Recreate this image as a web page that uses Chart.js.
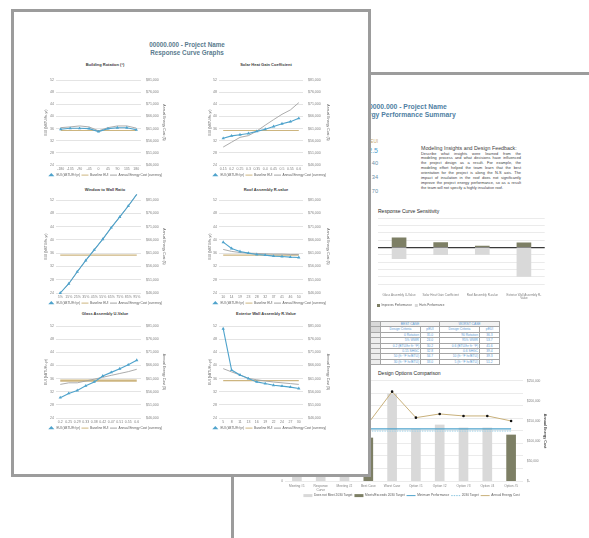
<!DOCTYPE html>
<html>
<head>
<meta charset="utf-8">
<title>Energy Performance Summary</title>
<script src="https://cdn.jsdelivr.net/npm/chart.js"></script>
<style>
  html, body { margin:0; padding:0; background:#fff; }
  body { width:589px; height:538px; position:relative; overflow:hidden; font-family:'Liberation Sans', Arial, sans-serif; }
  .page { position:absolute; background:#fff; border:3px solid #9c9c9c; box-sizing:border-box; }
  .t { position:absolute; white-space:nowrap; }
  canvas { position:absolute; }
  .line { width:100px; text-align:justify; text-align-last:justify; white-space:nowrap; height:4.9px; line-height:4.9px; }
  #summaryTable { position:absolute; left:370px; top:321px; border-collapse:collapse; font-size:3.3px; color:#5b9bd5; table-layout:fixed; border:0.8px solid #8c8c8c; }
  #summaryTable td { border:0.5px solid #a6a6a6; height:5px; padding:0 1px; line-height:4.4px; overflow:hidden; white-space:nowrap; box-sizing:border-box; }
</style>
</head>
<body>

<!-- second sheet: energy performance summary -->
<div class="page" style="left:231px;top:72px;width:420px;height:520px;"></div>
<div class="t" style="left:306px;top:103px;width:200px;text-align:center;font-weight:bold;font-size:6.8px;line-height:7.6px;color:#4f7fa3;">00000.000 - Project Name<br>Energy Performance Summary</div>
<div class="t" style="left:330px;top:138.5px;width:48px;text-align:right;font-size:4.6px;line-height:5px;color:#c9a86a;">pEUI</div>
<div class="t" style="left:330px;top:146.5px;width:48px;text-align:right;font-size:7px;line-height:7px;color:#4f9fd0;">32.5</div>
<div class="t" style="left:330px;top:160px;width:48px;text-align:right;font-size:5.6px;line-height:6px;color:#6b8fa8;">40</div>
<div class="t" style="left:330px;top:174px;width:48px;text-align:right;font-size:5.6px;line-height:6px;color:#6b8fa8;">34</div>
<div class="t" style="left:330px;top:188px;width:48px;text-align:right;font-size:5.6px;line-height:6px;color:#6b8fa8;">70</div>

<div class="t" style="left:421px;top:145px;font-size:5.3px;line-height:6px;color:#404040;">Modeling Insights and Design Feedback:</div>
<div style="position:absolute;left:421px;top:151.5px;font-size:3.9px;color:#404040;">
  <div class="line">Describe what insights were learned from the</div>
  <div class="line">modeling process and what decisions have influenced</div>
  <div class="line">the project design as a result. For example, the</div>
  <div class="line">modeling effort helped the team learn that the best</div>
  <div class="line">orientation for the project is along the N-S axis. The</div>
  <div class="line">impact of insulation in the roof does not significantly</div>
  <div class="line">improve the project energy performance, so as a result</div>
  <div class="line" style="text-align-last:left;">the team will not specify a highly insulative roof.</div>
</div>

<div class="t" style="left:378px;top:208px;font-size:5px;line-height:6px;color:#262626;">Response Curve Sensitivity</div>
<canvas id="sensitivityChart"></canvas>

<table id="summaryTable"></table>

<div class="t" style="left:378px;top:370px;font-size:5px;line-height:6px;color:#262626;">Design Options Comparison</div>
<canvas id="optionsChart"></canvas>

<!-- first sheet: response curve graphs -->
<div class="page" style="left:11px;top:9px;width:360px;height:468px;"></div>
<div class="t" style="left:87px;top:41.2px;width:200px;text-align:center;font-weight:bold;font-size:6.3px;line-height:7.7px;color:#5a7b8e;">00000.000 - Project Name<br>Response Curve Graphs</div>

<div class="t" style="left:45px;top:61.5px;width:120px;text-align:center;font-weight:bold;font-size:4px;line-height:5px;color:#404040;">Building Rotation (°)</div>
<div class="t" style="left:206px;top:61.5px;width:120px;text-align:center;font-weight:bold;font-size:4px;line-height:5px;color:#404040;">Solar Heat Gain Coefficient</div>
<div class="t" style="left:45px;top:187px;width:120px;text-align:center;font-weight:bold;font-size:4px;line-height:5px;color:#404040;">Window to Wall Ratio</div>
<div class="t" style="left:206px;top:187px;width:120px;text-align:center;font-weight:bold;font-size:4px;line-height:5px;color:#404040;">Roof Assembly R-value</div>
<div class="t" style="left:45px;top:310.5px;width:120px;text-align:center;font-weight:bold;font-size:4px;line-height:5px;color:#404040;">Glass Assembly U-Value</div>
<div class="t" style="left:206px;top:310.5px;width:120px;text-align:center;font-weight:bold;font-size:4px;line-height:5px;color:#404040;">Exterior Wall Assembly R-Value</div>

<canvas id="rotationChart"></canvas>
<canvas id="shgcChart"></canvas>
<canvas id="wwrChart"></canvas>
<canvas id="roofChart"></canvas>
<canvas id="glassChart"></canvas>
<canvas id="wallChart"></canvas>

<script>
// ---------- response curve series ----------
const rotationLabels = ['-180', '-135', '-90', '-45', '0', '45', '90', '135', '180'];
const rotationEUI = [35.8, 36.1, 36.1, 36.0, 35.0, 36.0, 36.3, 36.3, 35.6];
const rotationBaseline = [35.4, 35.4, 35.4, 35.4, 35.4, 35.4, 35.4, 35.4, 35.4];
const rotationCost = [61400, 61700, 62100, 61700, 60100, 61400, 62100, 62100, 61200];

const shgcLabels = ['0.15', '0.2', '0.25', '0.3', '0.35', '0.4', '0.45', '0.5', '0.55', '0.6'];
const shgcEUI = [32.8, 33.6, 34.0, 34.4, 35.1, 35.8, 36.7, 37.6, 38.3, 39.4];
const shgcBaseline = [35.4, 35.4, 35.4, 35.4, 35.4, 35.4, 35.4, 35.4, 35.4, 35.4];
const shgcCost = [53400, 55400, 57400, 58100, 60000, 62400, 64700, 66900, 68700, 71700];

const wwrLabels = ['5%', '15%', '25%', '35%', '45%', '55%', '65%', '75%', '85%', '95%'];
const wwrEUI = [24.0, 26.8, 30.4, 33.8, 37.0, 40.2, 43.7, 46.9, 50.2, 53.7];
const wwrBaseline = [35.4, 35.4, 35.4, 35.4, 35.4, 35.4, 35.4, 35.4, 35.4, 35.4];
const wwrCost = [46000, 49450, 53950, 58200, 62300, 66250, 70600, 74600, 78700, 83150];

const roofLabels = ['10', '14', '19', '23', '28', '32', '37', '41', '46', '50'];
const roofEUI = [39.3, 37.4, 36.5, 36.0, 35.6, 35.4, 35.1, 35.0, 34.8, 34.7];
const roofBaseline = [35.4, 35.4, 35.4, 35.4, 35.4, 35.4, 35.4, 35.4, 35.4, 35.4];
const roofCost = [62400, 61650, 61250, 61000, 60900, 60750, 60650, 60650, 60500, 60500];

const glassLabels = ['0.2', '0.25', '0.29', '0.33', '0.38', '0.42', '0.47', '0.51', '0.55', '0.6'];
const glassEUI = [30.2, 31.5, 32.4, 33.8, 35.0, 36.8, 37.9, 39.0, 40.2, 41.6];
const glassBaseline = [35.4, 35.4, 35.4, 35.4, 35.4, 35.4, 35.4, 35.4, 35.4, 35.4];
const glassCost = [58800, 59400, 59400, 60100, 60800, 61500, 62250, 62950, 63650, 64550];

const wallLabels = ['5', '8', '11', '13', '16', '19', '22', '24', '27', '30'];
const wallEUI = [51.2, 38.6, 37.1, 36.0, 35.0, 34.5, 34.0, 33.7, 33.4, 33.0];
const wallBaseline = [35.4, 35.4, 35.4, 35.4, 35.4, 35.4, 35.4, 35.4, 35.4, 35.4];
const wallCost = [64800, 63550, 62400, 61100, 60550, 60100, 59700, 59400, 59100, 58800];

// ---------- sensitivity (change in pEUI against baseline) ----------
const sensitivityLabels = ['Glass Assembly U-Value', 'Solar Heat Gain Coefficient', 'Roof Assembly R-value', ['Exterior Wall Assembly R-', 'Value']];
const improvesEUI = [5.2, 2.6, 0.7, 2.4];
const hurtsEUI = [-6.2, -4.0, -3.9, -15.8];

// ---------- best / worst case table ----------
const bestCriteria = ['0 Rotation', '5% WWR', '0.2 (BTU/hr ft² °F)', '0.15 SHGC', '50 (ft² °F hr/BTU)', '30 (ft² °F hr/BTU)'];
const bestEUI = ['35.0', '24.0', '30.2', '32.8', '34.7', '33.0'];
const worstCriteria = ['90 Rotation', '95% WWR', '0.6 (BTU/hr ft² °F)', '0.6 SHGC', '10 (ft² °F hr/BTU)', '5 (ft² °F hr/BTU)'];
const worstEUI = ['36.3', '53.7', '41.6', '39.4', '39.3', '51.2'];

// ---------- design options ----------
const optionLabels = ['Meeting #1', ['Response', 'Curve'], 'Meeting #2', 'Best Case', 'Worst Case', 'Option #1', 'Option #2', 'Option #3', 'Option #4', 'Option #5'];
const optionEUI = [46.0, 44.0, 48.0, 34.4, 69.6, 41.0, 44.8, 42.4, 42.4, 36.8];
const minimumPerformance = [41.6, 41.6, 41.6, 41.6, 41.6, 41.6, 41.6, 41.6, 41.6, 41.6];
const target2030 = [39.9, 39.9, 39.9, 39.9, 39.9, 39.9, 39.9, 39.9, 39.9, 39.9];
const optionCost = [152000, 158000, 155000, 144250, 223250, 158250, 167500, 162500, 162500, 150000];

// ---------- styling ----------
const BLUE = '#4fa3cc', TAN = '#cdb57f', GREY = '#a3a3a3', OLIVE = '#7d7f65', LIGHT = '#d9d9d9';
const TICK = '#7f7f7f', TEXT = '#595959';
Chart.defaults.font.family = "'Liberation Sans', Arial, sans-serif";
Chart.defaults.color = TEXT;

function place(id, x, y, w, h) {
  const c = document.getElementById(id);
  c.width = w; c.height = h;
  c.style.left = x + 'px'; c.style.top = y + 'px';
  c.style.width = w + 'px'; c.style.height = h + 'px';
  return c;
}

const byIndex = (a, b) => a.datasetIndex - b.datasetIndex;

// legend entries drawn as a short stroke in the series colour
function lineLegendItems(chart) {
  return Chart.defaults.plugins.legend.labels.generateLabels(chart).map(item => {
    const ds = chart.data.datasets[item.datasetIndex];
    if (ds.legendStroke) {
      item.pointStyle = 'line';
      item.strokeStyle = ds.legendStroke;
      item.lineWidth = 1;
      item.lineDash = ds.borderDash || [];
    }
    return item;
  });
}

// category axis without tick marks and with a fixed band height
const categoryAxis = (size, pad, height, extra) => Object.assign({
  grid: { display: false, drawTicks: false }, border: { display: false },
  ticks: { font: { size: size }, color: TICK, padding: pad, maxRotation: 0, minRotation: 0, autoSkip: false },
  afterFit: s => { s.height = height; }
}, extra || {});

function responseCurve(id, box, labels, eui, baseline, cost, baselineWidth) {
  const canvas = place(id, box.x, box.y, box.w, box.h);
  return new Chart(canvas, {
    type: 'line',
    data: {
      labels: labels,
      datasets: [
        { label: 'EUI (kBTU/ft²/yr)', data: eui, yAxisID: 'y', order: 0,
          borderColor: BLUE, backgroundColor: BLUE, borderWidth: 1.1,
          pointStyle: 'triangle', pointRadius: 1.9, pointBorderWidth: 0,
          pointBackgroundColor: BLUE, clip: false },
        { label: 'Baseline EUI', data: baseline, yAxisID: 'y', order: 2,
          borderColor: TAN, backgroundColor: TAN, borderWidth: baselineWidth,
          pointStyle: 'line', pointRadius: 0, pointBorderColor: TAN, pointBorderWidth: 1 },
        { label: 'Annual Energy Cost (currency)', data: cost, yAxisID: 'y1', order: 1,
          borderColor: GREY, backgroundColor: GREY, borderWidth: 0.9,
          pointStyle: 'line', pointRadius: 0, pointBorderColor: GREY, pointBorderWidth: 1, clip: false }
      ]
    },
    options: {
      responsive: false, animation: false, devicePixelRatio: 1,
      layout: { padding: { top: box.pad, left: 0, right: 0, bottom: 0 } },
      plugins: {
        tooltip: { enabled: false },
        legend: { position: 'bottom', maxHeight: 8,
          labels: { font: { size: 3.2 }, color: TEXT, usePointStyle: true, pointStyleWidth: 7,
                    boxHeight: 3, padding: 1.5, sort: byIndex } }
      },
      scales: {
        x: categoryAxis(3.5, 2, 7, { offset: true }),
        y: { position: 'left', min: 24, max: 52,
             ticks: { stepSize: 4, font: { size: 3.5 }, color: TICK, padding: 2 },
             grid: { color: '#d9d9d9', lineWidth: 0.7, drawTicks: false },
             border: { display: false },
             title: { display: true, text: 'EUI (kBTU/ft²-yr)', font: { size: 3.5 }, color: TEXT, padding: 0 },
             afterFit: s => { s.width = box.yW; } },
        y1: { position: 'right', min: 46000, max: 81000,
              ticks: { stepSize: 5000, font: { size: 3.5 }, color: TICK, padding: 5,
                       callback: v => '$' + v.toLocaleString('en-US') },
              grid: { display: false, drawTicks: false }, border: { display: false },
              title: { display: true, text: 'Annual Energy Cost ($)', font: { size: 3.5 }, color: TEXT, padding: 0 },
              afterFit: s => { s.width = box.y1W; } }
      }
    }
  });
}

responseCurve('rotationChart', { x: 44, y: 73, w: 122, h: 107, pad: 3, yW: 12, y1W: 25 }, rotationLabels, rotationEUI, rotationBaseline, rotationCost, 1.1);
responseCurve('shgcChart', { x: 208, y: 73, w: 122, h: 107, pad: 3, yW: 11, y1W: 27 }, shgcLabels, shgcEUI, shgcBaseline, shgcCost, 1.1);
responseCurve('wwrChart', { x: 44, y: 192, w: 122, h: 116, pad: 8, yW: 12, y1W: 25 }, wwrLabels, wwrEUI, wwrBaseline, wwrCost, 1.1);
responseCurve('roofChart', { x: 208, y: 192, w: 122, h: 116, pad: 8, yW: 11, y1W: 27 }, roofLabels, roofEUI, roofBaseline, roofCost, 1.1);
responseCurve('glassChart', { x: 44, y: 319, w: 122, h: 114, pad: 6, yW: 12, y1W: 25 }, glassLabels, glassEUI, glassBaseline, glassCost, 2.2);
responseCurve('wallChart', { x: 208, y: 319, w: 122, h: 114, pad: 6, yW: 11, y1W: 27 }, wallLabels, wallEUI, wallBaseline, wallCost, 1.1);

// ---------- sensitivity bars ----------
new Chart(place('sensitivityChart', 374, 212, 176, 98), {
  type: 'bar',
  data: {
    labels: sensitivityLabels,
    datasets: [
      { label: 'Improves Performance', data: improvesEUI, backgroundColor: OLIVE, barThickness: 14 },
      { label: 'Hurts Performance', data: hurtsEUI, backgroundColor: LIGHT, barThickness: 14 }
    ]
  },
  options: {
    responsive: false, animation: false, devicePixelRatio: 1,
    layout: { padding: { top: 6, right: 2, left: 0, bottom: 0 } },
    plugins: {
      tooltip: { enabled: false },
      legend: { position: 'bottom', align: 'start', maxHeight: 9,
        labels: { font: { size: 3 }, color: TEXT, boxWidth: 3, boxHeight: 3, padding: 3 } }
    },
    scales: {
      x: categoryAxis(3, 9, 17, { stacked: true }),
      y: { stacked: true, min: -20, max: 16,
           ticks: { stepSize: 4, display: false },
           grid: { drawTicks: false,
                   color: c => (c.tick && c.tick.value === 0) ? '#3a3a3a' : '#e3e3e3',
                   lineWidth: c => (c.tick && c.tick.value === 0) ? 1.2 : 0.7 },
           border: { display: false },
           afterFit: s => { s.width = 0; } }
    }
  }
});

// ---------- best / worst table ----------
(function buildTable() {
  const t = document.getElementById('summaryTable');
  const widths = [10, 40, 19, 40, 20];
  let html = '<colgroup>' + widths.map(w => '<col style="width:' + w + 'px">').join('') + '</colgroup>';
  html += '<tr><td style="background:#d9d9d9"></td><td colspan="2" style="text-align:center;background:#f2f2f2">BEST CASE</td><td colspan="2" style="text-align:center;background:#f2f2f2">WORST CASE</td></tr>';
  html += '<tr><td style="background:#d9d9d9"></td><td style="text-align:center">Design Criteria</td><td style="text-align:center">pEUI</td><td style="text-align:center">Design Criteria</td><td style="text-align:center">pEUI</td></tr>';
  for (let i = 0; i < bestCriteria.length; i++) {
    html += '<tr><td style="background:#ededed"></td><td style="text-align:right">' + bestCriteria[i] + '</td><td style="text-align:center">' + bestEUI[i] +
            '</td><td style="text-align:right">' + worstCriteria[i] + '</td><td style="text-align:center">' + worstEUI[i] + '</td></tr>';
  }
  t.innerHTML = html;
})();

// ---------- design options comparison ----------
const missesTarget = optionEUI.map((v, i) => v > target2030[i] ? v : null);
const meetsTarget = optionEUI.map((v, i) => v <= target2030[i] ? v : null);

new Chart(place('optionsChart', 276, 375, 271, 125), {
  data: {
    labels: optionLabels,
    datasets: [
      { type: 'bar', label: 'Does not Meet 2030 Target', data: missesTarget, backgroundColor: LIGHT,
        barThickness: 9, grouped: false, order: 3, pointStyle: 'rect' },
      { type: 'bar', label: 'Meets/Exceeds 2030 Target', data: meetsTarget, backgroundColor: OLIVE,
        barThickness: 9, grouped: false, order: 3, pointStyle: 'rect' },
      { type: 'line', label: 'Minimum Performance', data: minimumPerformance, borderColor: BLUE, backgroundColor: BLUE,
        borderWidth: 1.3, pointRadius: 0, pointStyle: 'line', legendStroke: BLUE, order: 1 },
      { type: 'line', label: '2030 Target', data: target2030, borderColor: '#9fd1e8', backgroundColor: '#9fd1e8',
        borderWidth: 1, borderDash: [1.5, 1], pointRadius: 0, pointStyle: 'line', legendStroke: '#8cc6e0', order: 1 },
      { type: 'line', label: 'Annual Energy Cost', data: optionCost, yAxisID: 'y1', borderColor: '#c8b07a',
        backgroundColor: '#111', borderWidth: 1, pointRadius: 1.3, pointBackgroundColor: '#111',
        pointBorderColor: '#111', pointBorderWidth: 0, pointStyle: 'circle', legendStroke: '#c8b07a', order: 0 }
    ]
  },
  options: {
    responsive: false, animation: false, devicePixelRatio: 1,
    layout: { padding: { top: 4, left: 0, right: 0, bottom: 0 } },
    plugins: {
      tooltip: { enabled: false },
      legend: { position: 'bottom', maxHeight: 8,
        labels: { font: { size: 3.2 }, color: TEXT, usePointStyle: true, pointStyleWidth: 9, boxHeight: 3,
                  padding: 2, sort: byIndex, generateLabels: lineLegendItems } }
    },
    scales: {
      x: categoryAxis(3.2, 3, 11),
      y: { position: 'left', min: 0, max: 80,
           ticks: { stepSize: 10, font: { size: 3.2 }, color: TICK, padding: 2 },
           grid: { color: '#e3e3e3', lineWidth: 0.7, drawTicks: false }, border: { display: false },
           afterFit: s => { s.width = 9; } },
      y1: { position: 'right', min: 0, max: 250000,
            ticks: { stepSize: 50000, font: { size: 3.2 }, color: TICK, padding: 4,
                     callback: v => v === 0 ? '$-' : '$' + v.toLocaleString('en-US') },
            grid: { display: false, drawTicks: false }, border: { display: false },
            title: { display: true, text: 'Annual Energy Cost', font: { size: 3.6, weight: 'bold' }, color: '#404040', padding: 0 },
            afterFit: s => { s.width = 24; } }
    }
  }
});
</script>
</body>
</html>
